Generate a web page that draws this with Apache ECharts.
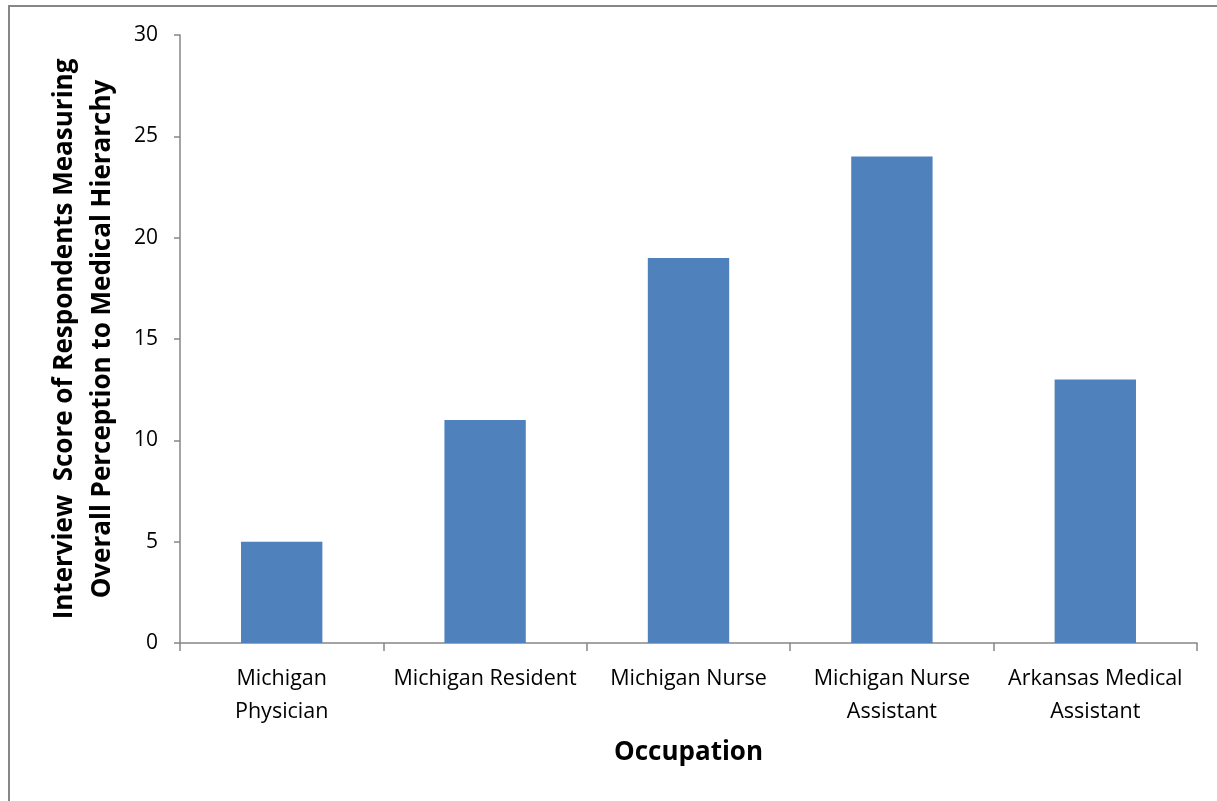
<!DOCTYPE html>
<html><head><meta charset="utf-8">
<script src="https://cdn.jsdelivr.net/npm/echarts@6/dist/echarts.min.js"></script>
<style>
html,body{margin:0;padding:0;background:#fff;overflow:hidden;}
#frame{position:absolute;left:8px;top:5px;width:1300px;height:900px;border-left:2px solid #878787;border-top:2px solid #878787;}
#c{position:absolute;left:0;top:0;width:1217px;height:801px;}
</style></head>
<body><div id="frame"></div><div id="c"></div>
<script>
const categories = ["Michigan\nPhysician","Michigan Resident","Michigan Nurse","Michigan Nurse\nAssistant","Arkansas Medical\nAssistant"];
const scores = [5, 11, 19, 24, 13];
const yTitle = "Interview  Score of Respondents Measuring\nOverall Perception to Medical Hierarchy";
const xTitle = "Occupation";
const font = "'Open Sans', 'Noto Sans', sans-serif";
const chart = echarts.init(document.getElementById('c'));
chart.setOption({
  animation:false,
  grid:{left:180,top:35,right:20,bottom:158},
  xAxis:{type:'category',data:categories,
    axisLine:{lineStyle:{color:'#868686',width:1.5}},
    axisTick:{show:true,length:8,lineStyle:{color:'#868686',width:1.5},alignWithLabel:false},
    axisLabel:{color:'#000',fontSize:21.5,fontFamily:font,lineHeight:33,margin:19,interval:0},
    name:xTitle,nameLocation:'middle',nameGap:97,
    nameTextStyle:{color:'#000',fontSize:26,fontWeight:'bold',fontFamily:font}},
  yAxis:{type:'value',min:0,max:30,interval:5,
    splitLine:{show:false},
    axisLine:{show:true,lineStyle:{color:'#868686',width:1.5}},
    axisTick:{show:true,length:6,lineStyle:{color:'#868686',width:1.5}},
    axisLabel:{color:'#000',fontSize:21,fontFamily:font,margin:22},
    name:yTitle,nameLocation:'middle',nameGap:58,nameRotate:90,
    nameTextStyle:{color:'#000',fontSize:26,fontWeight:'bold',fontFamily:font,lineHeight:38}},
  series:[{type:'bar',data:scores,barWidth:'40%',itemStyle:{color:'#4F81BD'}}]
});
</script></body></html>
